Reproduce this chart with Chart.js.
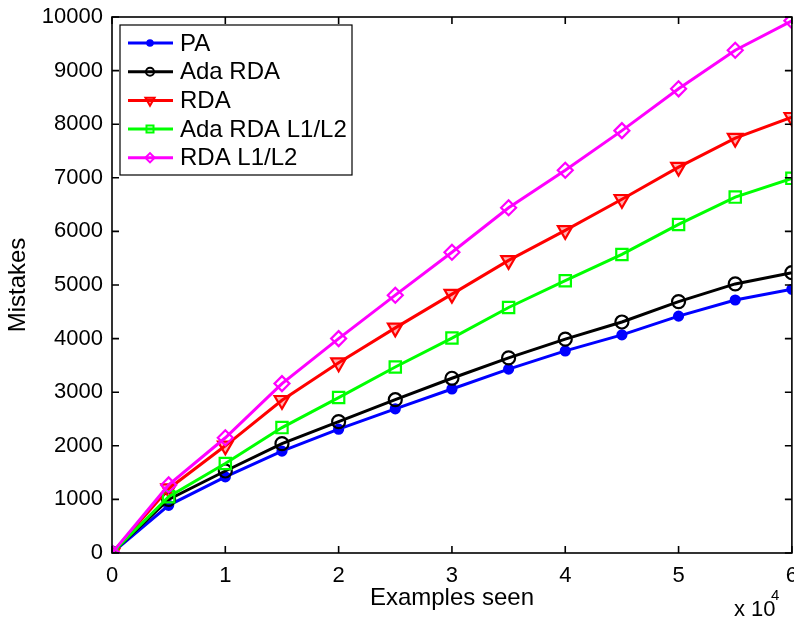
<!DOCTYPE html>
<html>
<head>
<meta charset="utf-8">
<script src="https://cdn.jsdelivr.net/npm/chart.js@4/dist/chart.umd.min.js"></script>
<style>
  html, body { margin: 0; padding: 0; background: #fff; }
  #wrap { width: 794px; height: 619px; overflow: hidden; }
  #myChart { display: block; }
</style>
</head>
<body>
<div id="wrap"><canvas id="myChart" width="794" height="619"></canvas></div>
<script>
// examples seen, in units of 10^4
var examples = [0, 0.5, 1, 1.5, 2, 2.5, 3, 3.5, 4, 4.5, 5, 5.5, 6];

var pa       = [0, 890, 1420, 1900, 2310, 2690, 3060, 3430, 3770, 4070, 4420, 4720, 4920];
var adaRda   = [0, 1000, 1530, 2040, 2450, 2860, 3260, 3640, 3990, 4310, 4690, 5020, 5230];
var rda      = [0, 1200, 2000, 2850, 3550, 4200, 4830, 5460, 6020, 6600, 7200, 7740, 8130];
var adaRdaL1 = [0, 1050, 1670, 2340, 2900, 3470, 4010, 4580, 5080, 5570, 6130, 6640, 6990];
var rdaL1    = [0, 1270, 2150, 3160, 4000, 4810, 5610, 6440, 7140, 7880, 8660, 9380, 9930];

var xTicks = [0, 1, 2, 3, 4, 5, 6];
var yTicks = [0, 1000, 2000, 3000, 4000, 5000, 6000, 7000, 8000, 9000, 10000];

var FONT = '"Liberation Sans", Arial, sans-serif';

function pts(ys) {
    return ys.map(function (y, i) { return { x: examples[i], y: y }; });
}

// MATLAB-style box with inward ticks on all four sides
var frame = {
    id: 'frame',
    afterDatasetsDraw: function (chart) {
        var c = chart.ctx, a = chart.chartArea;
        var xs = chart.scales.x, ys = chart.scales.y;
        c.save();
        c.strokeStyle = '#000';
        c.lineWidth = 1.6;
        c.strokeRect(a.left, a.top, a.right - a.left, a.bottom - a.top);
        c.beginPath();
        xTicks.forEach(function (t) {
            var px = xs.getPixelForValue(t);
            c.moveTo(px, a.bottom); c.lineTo(px, a.bottom - 7);
            c.moveTo(px, a.top); c.lineTo(px, a.top + 7);
        });
        yTicks.forEach(function (t) {
            var py = ys.getPixelForValue(t);
            c.moveTo(a.left, py); c.lineTo(a.left + 7, py);
            c.moveTo(a.right, py); c.lineTo(a.right - 7, py);
        });
        c.stroke();

        // exponent note
        c.fillStyle = '#000';
        c.textBaseline = 'alphabetic';
        c.font = '22px ' + FONT;
        c.fillText('x 10', 734, 616);
        c.font = '15px ' + FONT;
        c.fillText('4', 771, 600);
        c.restore();
    },
    afterDraw: function (chart) {
        // legend box, entries in original series order
        var c = chart.ctx;
        var bx = 120, by = 25, bw = 232, bh = 150;
        c.save();
        c.fillStyle = '#fff';
        c.fillRect(bx, by, bw, bh);
        c.strokeStyle = '#000';
        c.lineWidth = 1.2;
        c.strokeRect(bx, by, bw, bh);
        chart.data.datasets.slice().reverse().forEach(function (ds, i) {
            var y = 43 + i * 28.7;
            c.strokeStyle = ds.borderColor;
            c.lineWidth = 3;
            c.beginPath();
            c.moveTo(128, y); c.lineTo(173, y);
            c.stroke();
            c.lineWidth = 2;
            c.fillStyle = ds.pointBackgroundColor;
            Chart.helpers.drawPoint(c, {
                pointStyle: ds.pointStyle,
                radius: ds.pointRadius * 0.62,
                rotation: ds.pointRotation || 0,
                borderWidth: 2
            }, 150, y);
            c.fillStyle = '#000';
            c.font = '24px ' + FONT;
            c.textBaseline = 'middle';
            c.fillText(ds.label, 180, y + 1);
        });
        c.restore();
    }
};

function series(label, ys, color, style, radius, fill, rot) {
    return {
        label: label,
        data: pts(ys),
        borderColor: color,
        backgroundColor: color,
        borderWidth: 3,
        pointStyle: style,
        pointRadius: radius,
        pointRotation: rot || 0,
        pointBorderWidth: 2.2,
        pointBorderColor: color,
        pointBackgroundColor: fill,
        tension: 0
    };
}

var canvas = document.getElementById('myChart');

function build() {
    // later series are drawn on top, so the array is reversed (Chart.js paints index 0 last)
    return new Chart(canvas.getContext('2d'), {
        type: 'line',
        data: {
            datasets: [
                series('PA', pa, '#0000ff', 'circle', 4.5, '#0000ff'),
                series('Ada RDA', adaRda, '#000000', 'circle', 6.5, 'rgba(0,0,0,0)'),
                series('RDA', rda, '#ff0000', 'triangle', 8.5, 'rgba(255,0,0,0.3)', 180),
                series('Ada RDA L1/L2', adaRdaL1, '#00ff00', 'rect', 8, 'rgba(0,0,0,0)'),
                series('RDA L1/L2', rdaL1, '#ff00ff', 'rectRot', 7.5, 'rgba(0,0,0,0)')
            ].reverse()
        },
        plugins: [frame],
        options: {
            responsive: false,
            maintainAspectRatio: false,
            animation: false,
            layout: { padding: { left: 0, right: 0, top: 17, bottom: 0 } },
            plugins: {
                legend: { display: false },
                tooltip: { enabled: false }
            },
            scales: {
                x: {
                    type: 'linear',
                    min: 0,
                    max: 6,
                    afterBuildTicks: function (s) { s.ticks = xTicks.map(function (v) { return { value: v }; }); },
                    afterFit: function (s) { s.height = 66; },
                    grid: { display: false, drawTicks: false },
                    border: { display: false },
                    ticks: { color: '#000', padding: 10, maxRotation: 0, font: { family: FONT, size: 22 } },
                    title: {
                        display: true,
                        text: 'Examples seen',
                        color: '#000',
                        padding: { top: 0, bottom: 6 },
                        font: { family: FONT, size: 24 }
                    }
                },
                y: {
                    min: 0,
                    max: 10000,
                    afterBuildTicks: function (s) { s.ticks = yTicks.map(function (v) { return { value: v }; }); },
                    afterFit: function (s) { s.width = 112; s.paddingTop = 0; s.paddingBottom = 0; },
                    grid: { display: false, drawTicks: false },
                    border: { display: false },
                    ticks: {
                        color: '#000',
                        padding: 9,
                        font: { family: FONT, size: 22 },
                        callback: function (v) { return String(v); }
                    },
                    title: {
                        display: true,
                        text: 'Mistakes',
                        color: '#000',
                        padding: { top: 4, bottom: 0 },
                        font: { family: FONT, size: 24 }
                    }
                }
            }
        }
    });
}

var chart = build();

// the last x label reserves room on the right; rebuild on a wider canvas (clipped by #wrap)
// so the plot's right edge lands at x=792 like the reference, with "6" cut off
var gap = Math.round(792 - chart.chartArea.right);
if (gap > 0) {
    chart.destroy();
    canvas.width = 794 + gap;
    canvas.height = 619;
    canvas.style.width = (794 + gap) + 'px';
    canvas.style.height = '619px';
    chart = build();
}
</script>
</body>
</html>
